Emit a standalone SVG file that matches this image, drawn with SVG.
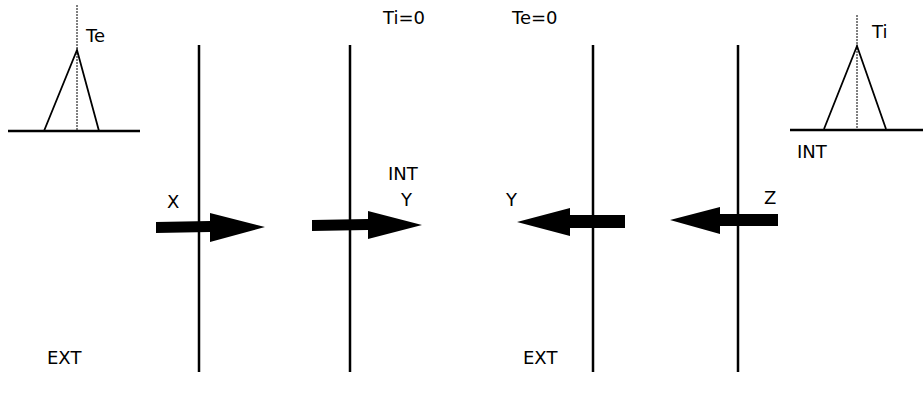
<svg xmlns="http://www.w3.org/2000/svg" width="923" height="394" viewBox="0 0 923 394">
<style>
.ln{stroke:#000;stroke-width:2.5;fill:none}
.thin{stroke:#000;stroke-width:1.8;fill:none}
.dash{stroke:#000;stroke-width:1;stroke-dasharray:2 1;fill:none}
.ar{fill:#000}
text{font-family:"DejaVu Sans","Liberation Sans",sans-serif;font-size:18px;fill:#000}
</style>
<rect width="923" height="394" fill="#fff"/>
<g id="profile-te">
<line class="dash" x1="77" y1="5" x2="77" y2="131"/>
<polyline class="thin" points="44,131 77,50 99,131"/>
<line class="ln" x1="8" y1="131" x2="140" y2="131" stroke-width="3"/>
<text x="86" y="42">Te</text>
</g>
<g id="profile-ti">
<line class="dash" x1="857" y1="15" x2="857" y2="130"/>
<polyline class="thin" points="824,129 857,46 886,129"/>
<line class="ln" x1="790" y1="130" x2="923" y2="130" stroke-width="3"/>
<text x="872" y="38">Ti</text>
<text x="797" y="158">INT</text>
</g>
<g id="wall1"><line class="ln" x1="199" y1="45" x2="199" y2="372"/></g>
<g id="wall2"><line class="ln" x1="350" y1="45" x2="350" y2="372"/><text x="383" y="24">Ti=0</text></g>
<g id="wall3"><line class="ln" x1="593" y1="45" x2="593" y2="372"/><text x="512" y="24">Te=0</text></g>
<g id="wall4"><line class="ln" x1="738" y1="45" x2="738" y2="372"/></g>
<g id="labels">
<text x="47" y="364">EXT</text>
<text x="523" y="364">EXT</text>
<text x="388" y="180">INT</text>
</g>
<g id="connectors">
<polygon class="ar" points="156,222 210,221 210,213 265,227 210,242 210,232 156,233"/>
<text x="167" y="208">X</text>
<polygon class="ar" points="312,220 368,219 368,211 422,225 368,239 368,230 312,231"/>
<text x="401" y="206">Y</text>
<polygon class="ar" points="625,215 570,215 570,208 517,222 570,236 570,228 625,228"/>
<text x="506" y="206">Y</text>
<polygon class="ar" points="778,214 720,214 720,207 670,220 720,234 720,226 778,226"/>
<text x="764" y="204">Z</text>
</g>
</svg>
